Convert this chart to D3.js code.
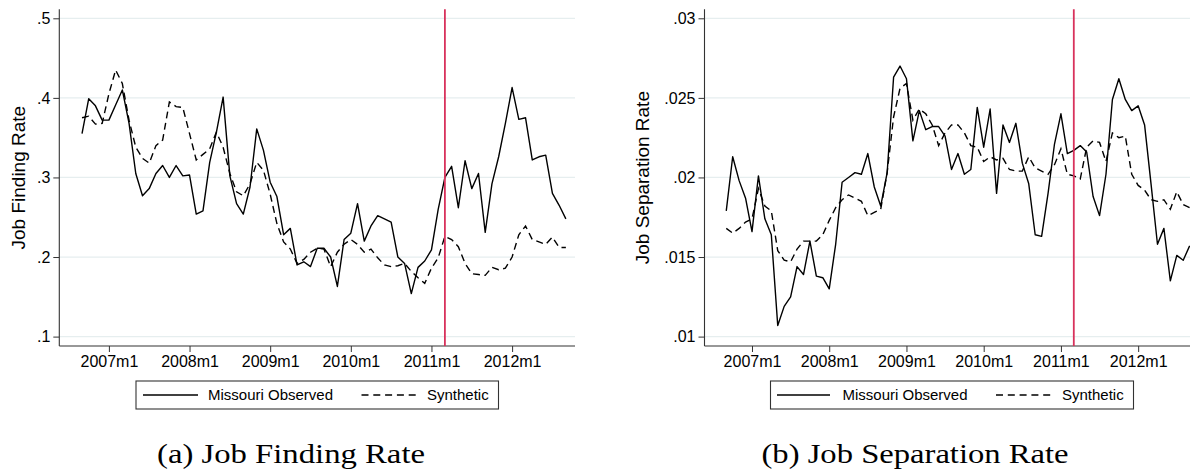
<!DOCTYPE html>
<html>
<head>
<meta charset="utf-8">
<script src="https://cdn.jsdelivr.net/npm/d3@7"></script>
<style>
  body { margin: 0; background: #fff; }
  svg { display: block; }
  text { font-family: "Liberation Sans", Arial, sans-serif; fill: #000; }
</style>
</head>
<body>
<svg id="chart" width="1190" height="474"></svg>
<script>
// months run from 2006m9 to 2012m9
const firstMonth = "2006m9";
const treatMonth = "2011m3";
const xTickLabels = ["2007m1", "2008m1", "2009m1", "2010m1", "2011m1", "2012m1"];
const legendLabels = ["Missouri Observed", "Synthetic"];

const findTicks = [0.1, 0.2, 0.3, 0.4, 0.5];
const findTickLabels = [".1", ".2", ".3", ".4", ".5"];
const sepTicks = [0.01, 0.015, 0.02, 0.025, 0.03];
const sepTickLabels = [".01", ".015", ".02", ".025", ".03"];

const findObserved = [
  .355, .399, .390, .372, .372, .391, .410, .368, .305, .277, .286, .305, .315,
  .300, .315, .302, .303, .254, .258, .319, .357, .401, .302, .267, .254, .288,
  .361, .334, .294, .276, .228, .236, .190, .194, .188, .211, .211, .200, .163,
  .222, .230, .267, .220, .239, .252, .248, .244, .200, .192, .154, .187, .195,
  .209, .260, .300, .314, .262, .321, .286, .305, .231, .292, .326, .368, .413,
  .373, .375, .322, .326, .328, .280, .265, .248];
const findSynthetic = [
  .375, .377, .367, .368, .405, .435, .418, .372, .338, .324, .318, .340, .347,
  .395, .389, .388, .355, .322, .329, .336, .357, .338, .305, .282, .277, .292,
  .319, .309, .279, .242, .219, .210, .192, .197, .206, .211, .210, .188, .206,
  .216, .222, .216, .206, .210, .199, .190, .188, .189, .192, .182, .174, .167,
  .186, .199, .226, .222, .213, .192, .179, .178, .177, .187, .184, .186, .200,
  .228, .239, .222, .219, .216, .225, .212, .212];
const sepObserved = [
  .0179, .0213, .0198, .0187, .0166, .0201, .0174, .0164, .0107, .0119, .0125, .0144, .0139,
  .0160, .0138, .0137, .0130, .0158, .0197, .0200, .0203, .0202, .0215, .0194, .0182, .0203,
  .0263, .0270, .0262, .0223, .0242, .0230, .0232, .0232, .0226, .0205, .0215, .0202, .0205,
  .0244, .0219, .0243, .0190, .0233, .0222, .0234, .0209, .0196, .0164, .0163, .0190, .0221,
  .0240, .0215, .0217, .0220, .0216, .0188, .0176, .0202, .0249, .0262, .0249, .0242, .0245,
  .0233, .0196, .0158, .0168, .0135, .0151, .0148, .0157];
const sepSynthetic = [
  .0168, .0165, .0168, .0172, .0174, .0193, .0182, .0179, .0154, .0148, .0147, .0155, .0160,
  .0160, .0160, .0164, .0173, .0181, .0186, .0189, .0187, .0185, .0176, .0178, .0180, .0203,
  .0238, .0256, .0259, .0236, .0243, .0240, .0233, .0220, .0228, .0233, .0233, .0228, .0220,
  .0219, .0210, .0213, .0211, .0212, .0205, .0204, .0204, .0213, .0206, .0204, .0202, .0208,
  .0218, .0202, .0201, .0199, .0219, .0223, .0222, .0210, .0228, .0225, .0226, .0202, .0195,
  .0192, .0186, .0185, .0186, .0180, .0191, .0183, .0181];

function monthIndex(s) {
  const [y, m] = s.split("m");
  return +y * 12 + (+m) - 1;
}

const svg = d3.select("#chart");
svg.append("rect").attr("width", 1190).attr("height", 474).attr("fill", "#fff");

const plotTop = 9.3, plotBottom = 346;
const start = monthIndex(firstMonth);
const ref = monthIndex("2007m1");

const panels = [
  {
    observed: findObserved, synthetic: findSynthetic,
    ticks: findTicks, tickLabels: findTickLabels,
    yTitle: "Job Finding Rate", yTitleX: 18.5,
    xRange: [59.3, 575],
    legend: { x0: 136, x1: 498.5, solid: [143, 198], solidText: 208, dash: [361.5, 418], dashText: 427 },
    caption: "(a) Job Finding Rate", captionX: 291, captionLen: 268
  },
  {
    observed: sepObserved, synthetic: sepSynthetic,
    ticks: sepTicks, tickLabels: sepTickLabels,
    yTitle: "Job Separation Rate", yTitleX: 642,
    xRange: [704.5, 1198.4],
    legend: { x0: 770.5, x1: 1133.5, solid: [777, 830], solidText: 842.5, dash: [996, 1050.5], dashText: 1062 },
    caption: "(b) Job Separation Rate", captionX: 915, captionLen: 307
  }
];

panels.forEach(p => {
  const g = svg.append("g");
  const x = d3.scaleLinear().domain([ref - 7.38, ref + 69.36]).range(p.xRange);
  const y = d3.scaleLinear().domain([p.ticks[0], p.ticks[p.ticks.length - 1]]).range([336.6, 18.3]);
  const axisX = p.xRange[0];

  // gridlines
  g.selectAll(".grid").data(p.ticks).join("line")
    .attr("x1", axisX).attr("x2", p.xRange[1])
    .attr("y1", d => y(d)).attr("y2", d => y(d))
    .attr("stroke", "#e6eeef").attr("stroke-width", 1.2);

  // y axis
  const yAxis = d3.axisLeft(y).tickValues(p.ticks)
    .tickFormat((d, i) => p.tickLabels[i]).tickSize(6).tickPadding(3);
  const ya = g.append("g").attr("transform", `translate(${axisX},0)`).call(yAxis);
  ya.select(".domain").remove();
  ya.selectAll("line").attr("stroke", "#333");
  ya.selectAll("text").style("font-size", "16px");
  g.append("line").attr("x1", axisX).attr("x2", axisX)
    .attr("y1", plotTop).attr("y2", plotBottom).attr("stroke", "#333").attr("stroke-width", 1.1);

  // x axis
  const xAxis = d3.axisBottom(x).tickValues(xTickLabels.map(monthIndex))
    .tickFormat((d, i) => xTickLabels[i]).tickSize(6).tickPadding(4);
  const xa = g.append("g").attr("transform", `translate(0,${plotBottom})`).call(xAxis);
  xa.select(".domain").remove();
  xa.selectAll("line").attr("stroke", "#333");
  xa.selectAll("text").style("font-size", "16px");
  g.append("line").attr("x1", axisX).attr("x2", p.xRange[1])
    .attr("y1", plotBottom).attr("y2", plotBottom).attr("stroke", "#333").attr("stroke-width", 1.1);

  // y title
  g.append("text")
    .attr("transform", `translate(${p.yTitleX},${(plotTop + plotBottom) / 2}) rotate(-90)`)
    .attr("text-anchor", "middle").attr("dy", "0.35em")
    .style("font-size", "19px").text(p.yTitle);

  // series
  const line = d3.line().x((d, i) => x(start + i)).y(d => y(d));
  g.append("path").datum(p.synthetic).attr("d", line)
    .attr("fill", "none").attr("stroke", "#000").attr("stroke-width", 1.4)
    .attr("stroke-dasharray", "7,4.5");
  g.append("path").datum(p.observed).attr("d", line)
    .attr("fill", "none").attr("stroke", "#000").attr("stroke-width", 1.4)
    .attr("stroke-linejoin", "round");

  // treatment line
  g.append("line")
    .attr("x1", x(monthIndex(treatMonth))).attr("x2", x(monthIndex(treatMonth)))
    .attr("y1", plotTop).attr("y2", plotBottom)
    .attr("stroke", "#d8325c").attr("stroke-width", 1.8);

  // legend
  const L = p.legend, ly0 = 381, ly1 = 409, lyc = 395;
  g.append("rect").attr("x", L.x0).attr("y", ly0).attr("width", L.x1 - L.x0).attr("height", ly1 - ly0)
    .attr("fill", "#fff").attr("stroke", "#333").attr("stroke-width", 1.1);
  g.append("line").attr("x1", L.solid[0]).attr("x2", L.solid[1]).attr("y1", lyc).attr("y2", lyc)
    .attr("stroke", "#000").attr("stroke-width", 1.4);
  g.append("line").attr("x1", L.dash[0]).attr("x2", L.dash[1]).attr("y1", lyc).attr("y2", lyc)
    .attr("stroke", "#000").attr("stroke-width", 1.4).attr("stroke-dasharray", "7,4.8");
  g.append("text").attr("x", L.solidText).attr("y", lyc).attr("dy", "0.35em")
    .style("font-size", "15px").text(legendLabels[0]);
  g.append("text").attr("x", L.dashText).attr("y", lyc).attr("dy", "0.35em")
    .style("font-size", "15px").text(legendLabels[1]);

  // caption
  g.append("text").attr("x", p.captionX).attr("y", 463).attr("text-anchor", "middle")
    .attr("textLength", p.captionLen).attr("lengthAdjust", "spacingAndGlyphs")
    .style("font-family", '"Liberation Serif", "DejaVu Serif", serif')
    .style("font-size", "27px").text(p.caption);
});
</script>
</body>
</html>
